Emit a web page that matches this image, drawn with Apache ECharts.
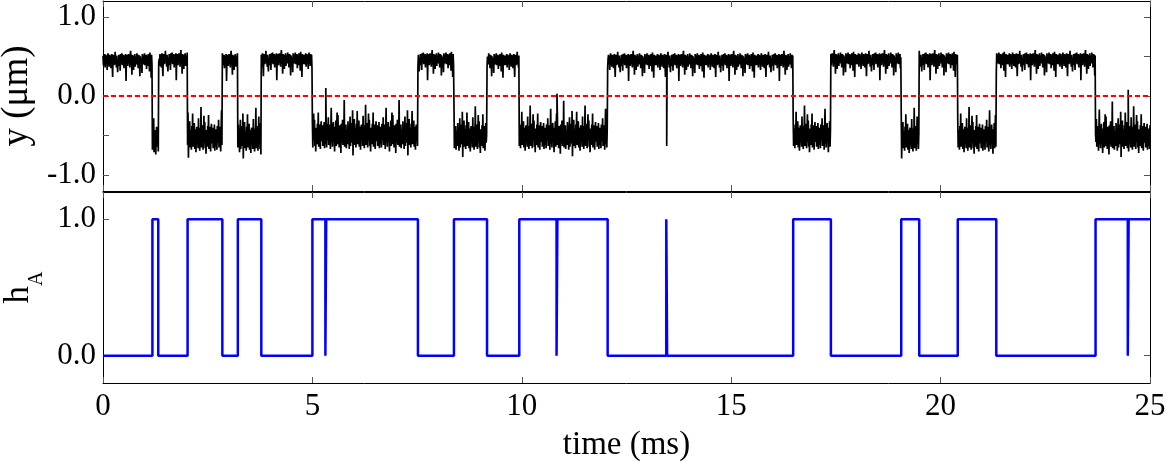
<!DOCTYPE html>
<html>
<head>
<meta charset="utf-8">
<script src="https://cdn.jsdelivr.net/npm/echarts@6/dist/echarts.min.js"></script>
<style>
  html, body { margin: 0; padding: 0; background: #fff; }
  #chart { width: 1165px; height: 466px; }
</style>
</head>
<body>
<div id="chart"></div>
<script>
// h_A switching times (ms) and the state held from each time on
const hATimes = [0, 1.18, 1.32, 2.02, 2.85, 3.22, 3.78, 5.00, 5.31, 5.33, 7.52, 8.38, 9.17, 9.94, 10.83, 10.85, 12.05, 13.45, 13.47, 16.48, 17.38, 19.06, 19.49, 20.41, 21.33, 23.70, 24.47, 24.49, 25];
const hAValues = [0, 1, 0, 1, 0, 1, 0, 1, 0, 1, 0, 1, 0, 1, 0, 1, 0, 1, 0, 1, 0, 1, 0, 1, 0, 1, 0, 1, 1];

// y trace: state boundaries (ms) and mean level of each state (um)
const stateTimes = [0, 1.18, 1.33, 2.02, 2.85, 3.22, 3.78, 5.00, 7.52, 8.38, 9.17, 9.94, 12.05, 16.48, 17.38, 19.06, 19.49, 20.41, 21.33, 23.70, 25];
const stateLevels = [0.46, -0.56, 0.47, -0.52, 0.46, -0.53, 0.47, -0.49, 0.47, -0.51, 0.46, -0.50, 0.46, -0.50, 0.47, -0.53, 0.47, -0.52, 0.47, -0.51];

// short excursions seen in the trace
const spikeTimes = [5.32, 10.84, 13.46, 24.48];
const spikeValues = [0.10, 0.03, -0.63, 0.08];

// noise, offsets from the level (um)
const jitterHigh = [
  0.05, -0.07, 0.03, -0.04, 0.07, -0.10, 0.01, 0.06, -0.05, 0.04, -0.13, 0.02, 0.08, -0.06, 0.00,
  -0.09, 0.06, -0.02, 0.05, -0.11, 0.03, 0.07, -0.05, -0.22, 0.02, 0.06, -0.07, 0.04, -0.01, 0.10,
  -0.06, 0.02, -0.10, 0.05, 0.07, -0.16, 0.01, -0.08, 0.06, -0.02, 0.04, -0.14, 0.07, -0.05, 0.02,
  0.08, -0.07, 0.04, -0.02, 0.06, -0.11, 0.01, 0.05, -0.06, 0.07, -0.27, 0.03, -0.04, 0.06, -0.08,
  0.02, 0.07, -0.05, 0.01, -0.10, 0.05, 0.11, -0.06, 0.02, -0.19, 0.06, -0.07, 0.04, -0.13, 0.05,
  -0.02, 0.07, -0.09, 0.04, 0.01, -0.06, 0.08, -0.05, 0.02, -0.11, 0.06, -0.01, 0.05, -0.21, 0.04,
  0.06, -0.10, 0.02, -0.17, 0.07, -0.04, 0.05, -0.06, 0.01, 0.08, -0.07, 0.04, -0.02, 0.06, -0.12,
  0.02, 0.05, -0.08, 0.07, -0.04, 0.01, -0.15, 0.09, -0.05, 0.02, -0.23, 0.06, -0.07, 0.04, 0.00
];
const jitterLow = [
  0.12, -0.14, 0.06, -0.09, 0.16, -0.17, 0.02, 0.10, -0.12, 0.07, -0.16, 0.14, 0.03, -0.07, 0.22,
  -0.13, 0.08, -0.05, 0.13, -0.18, 0.06, 0.34, -0.10, 0.05, -0.15, 0.09, 0.16, -0.08, 0.02, -0.21,
  0.10, -0.06, 0.18, -0.14, 0.07, 0.28, -0.12, 0.25, -0.09, 0.05, -0.16, 0.12, -0.03, 0.08, -0.23,
  0.14, -0.10, 0.06, 0.19, -0.13, 0.03, -0.07, 0.44, -0.15, 0.09, -0.05, 0.13, -0.17, 0.07, 0.02,
  -0.12, 0.17, -0.08, 0.10, -0.18, 0.05, 0.23, -0.14, 0.08, -0.02, 0.15, -0.10, 0.31, -0.26, 0.12,
  -0.07, 0.20, -0.13, 0.03, 0.09, -0.16, 0.14, -0.06, 0.30, -0.12, 0.07, -0.09, 0.18, -0.15, 0.05,
  0.10, -0.19, 0.06, 0.13, -0.08, 0.02, -0.14, 0.24, -0.10, 0.08, -0.17, 0.12, -0.05, 0.38, -0.13,
  0.07, -0.09, 0.15, -0.16, 0.03, 0.27, -0.07, 0.19, -0.14, 0.06, -0.21, 0.09, 0.01, -0.12, 0.14,
  -0.06, 0.28, -0.15, 0.08, -0.10, 0.13, -0.18, 0.05, 0.17, -0.08, 0.02
];

// build the y trace
let trace = [];
let seg = 0;
let sp = 0;
for (let i = 0; i <= 2500; i++) {
  let t = +(i * 0.01).toFixed(2);
  while (seg < stateLevels.length - 1 && t >= stateTimes[seg + 1]) seg++;
  let level = stateLevels[seg];
  let y = level > 0 ? level + jitterHigh[i % jitterHigh.length] : level + jitterLow[i % jitterLow.length];
  trace.push([t, y]);
  if (sp < spikeTimes.length && spikeTimes[sp] >= t && spikeTimes[sp] < t + 0.01) {
    trace.push([spikeTimes[sp], spikeValues[sp]]);
    sp++;
  }
}
let hAData = hATimes.map((t, i) => [t, hAValues[i]]);

const font = "'Liberation Serif', 'DejaVu Serif', serif";
const frame = { show: true, onZero: false, lineStyle: { color: '#000', width: 1 } };
const tick = { show: true, inside: true, length: 6, lineStyle: { color: '#555' } };

function xAx(grid, pos, labels) {
  return {
    type: 'value', gridIndex: grid, position: pos, min: 0, max: 25, interval: 5,
    axisLine: frame, axisTick: tick, splitLine: { show: false },
    axisLabel: { show: labels, fontFamily: font, fontSize: 31, color: '#000', margin: 8 },
    name: labels ? 'time (ms)' : '', nameLocation: 'middle', nameGap: 46,
    nameTextStyle: { fontFamily: font, fontSize: 33, color: '#000' }
  };
}

let chart = echarts.init(document.getElementById('chart'));
chart.setOption({
  animation: false,
  grid: [
    { left: 103, right: 15, top: 1, height: 190, outerBoundsMode: 'none' },
    { left: 103, right: 15, top: 192, height: 191, outerBoundsMode: 'none' }
  ],
  xAxis: [xAx(0, 'bottom', false), xAx(0, 'top', false), xAx(1, 'bottom', true), xAx(1, 'top', false)],
  yAxis: [
    {
      type: 'value', gridIndex: 0, position: 'left', min: -1.2, max: 1.2,
      axisLine: frame, splitLine: { show: false },
      axisTick: Object.assign({ customValues: [-1, -0.5, 0, 0.5, 1] }, tick),
      axisLabel: { customValues: [-1, 0, 1], formatter: v => v.toFixed(1), fontFamily: font, fontSize: 31, color: '#000', margin: 7 },
      name: 'y (μm)', nameLocation: 'middle', nameRotate: 90, nameGap: 63,
      nameTextStyle: { fontFamily: font, fontSize: 37, color: '#000' }
    },
    {
      type: 'value', gridIndex: 0, position: 'right', min: -1.2, max: 1.2,
      axisLine: frame, splitLine: { show: false },
      axisTick: Object.assign({ customValues: [-1, -0.5, 0, 0.5, 1] }, tick),
      axisLabel: { show: false }
    },
    {
      type: 'value', gridIndex: 1, position: 'left', min: -0.2, max: 1.2,
      axisLine: frame, splitLine: { show: false },
      axisTick: Object.assign({ customValues: [0, 1] }, tick),
      axisLabel: { customValues: [0, 1], formatter: v => v.toFixed(1), fontFamily: font, fontSize: 31, color: '#000', margin: 7 },
      name: '{h|h}{a|A}', nameLocation: 'middle', nameRotate: 90, nameGap: 58,
      nameTextStyle: {
        fontFamily: font, color: '#000',
        rich: {
          h: { fontFamily: font, fontSize: 35, lineHeight: 35, verticalAlign: 'top', color: '#000' },
          a: { fontFamily: font, fontSize: 20, lineHeight: 20, verticalAlign: 'top', padding: [25, 0, 0, 0], color: '#000' }
        }
      }
    },
    {
      type: 'value', gridIndex: 1, position: 'right', min: -0.2, max: 1.2,
      axisLine: frame, splitLine: { show: false },
      axisTick: Object.assign({ customValues: [0, 1] }, tick),
      axisLabel: { show: false }
    }
  ],
  series: [
    {
      name: 'y', type: 'line', xAxisIndex: 0, yAxisIndex: 0, data: trace,
      showSymbol: false, symbol: 'none', sampling: null,
      lineStyle: { color: '#000', width: 1.7 },
      markLine: {
        silent: true, symbol: 'none', label: { show: false },
        lineStyle: { color: '#ff0000', type: [5, 3], width: 1.8 },
        data: [{ yAxis: 0 }]
      }
    },
    {
      name: 'hA', type: 'line', xAxisIndex: 2, yAxisIndex: 2, data: hAData,
      step: 'end', showSymbol: false, symbol: 'none',
      lineStyle: { color: '#0000ff', width: 2.5 }
    }
  ]
});
</script>
</body>
</html>
